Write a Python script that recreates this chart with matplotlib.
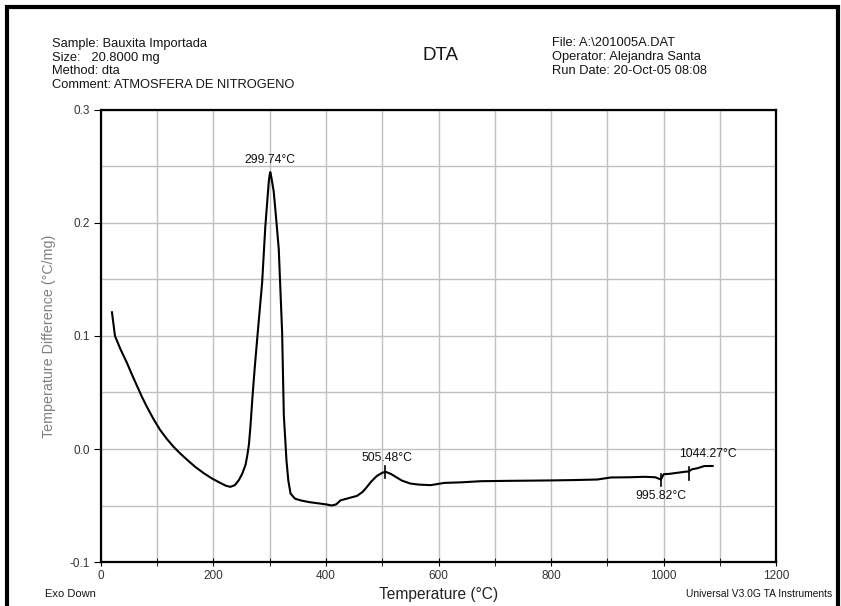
import matplotlib
matplotlib.use('Agg')
import matplotlib.pyplot as plt
from matplotlib.patches import Rectangle
from matplotlib.ticker import MultipleLocator

plt.rcParams['font.family'] = ['Liberation Sans', 'DejaVu Sans']

# DTA curve: temperature (C) and temperature difference (C/mg)
temp = [19.6, 25, 35, 46, 55, 64, 73, 82, 94, 105, 117, 129, 141, 153, 168, 183,
        197, 212, 222, 230, 238, 245, 251, 257, 260, 263, 266, 269, 273, 277.6,
        282, 286.5, 292, 296, 298.3, 300, 301, 303, 307, 311, 316, 319, 322, 325,
        329.7, 333, 337, 345, 355, 370, 385, 400, 410, 418, 426, 440, 455, 465,
        472, 480, 490, 500, 506, 515, 525, 535, 550, 565, 586, 610, 640, 675, 720,
        764, 800, 840, 882, 906, 940, 965, 985, 995, 1000, 1010, 1025, 1040, 1044,
        1050, 1060, 1072, 1087]
dta = [0.121, 0.100, 0.088, 0.0765, 0.066, 0.056, 0.046, 0.037, 0.026, 0.017,
       0.009, 0.002, -0.004, -0.0095, -0.016, -0.0215, -0.026, -0.030, -0.0325,
       -0.0335, -0.032, -0.0276, -0.022, -0.014, -0.006, 0.004, 0.022, 0.044,
       0.070, 0.097, 0.122, 0.1475, 0.196, 0.222, 0.2366, 0.243, 0.245, 0.240,
       0.228, 0.206, 0.177, 0.140, 0.103, 0.030, -0.010, -0.028, -0.0395, -0.044,
       -0.0455, -0.047, -0.048, -0.049, -0.050, -0.049, -0.0454, -0.0435, -0.0415,
       -0.038, -0.034, -0.029, -0.024, -0.021, -0.0202, -0.022, -0.025, -0.028,
       -0.0306, -0.0315, -0.032, -0.030, -0.0295, -0.0285, -0.0282, -0.028,
       -0.0278, -0.0275, -0.027, -0.0252, -0.025, -0.0246, -0.025, -0.027,
       -0.0223, -0.022, -0.021, -0.020, -0.020, -0.018, -0.017, -0.0151, -0.015]

# peak labels: temperature, curve value, label position
peak_temps = [299.74, 505.48, 995.82, 1044.27]
peak_vals = [0.245, -0.0205, -0.0275, -0.0215]
peak_text = ['299.74°C', '505.48°C', '995.82°C', '1044.27°C']
label_x = [301, 509, 995, 1078]
label_y = [0.256, -0.0083, -0.042, -0.004]

fig = plt.figure(figsize=(8.41, 6.06), dpi=100)
ax = fig.add_axes([0.120, 0.0726, 0.803, 0.7459])

ax.plot(temp, dta, color='black', lw=1.5)
for t, v in zip(peak_temps[1:], peak_vals[1:]):
    ax.plot([t, t], [v - 0.0055, v + 0.0055], color='black', lw=1.2)
for tx, ty, s in zip(label_x, label_y, peak_text):
    ax.text(tx, ty, s, ha='center', va='center', fontsize=8.7, color='#111111')

ax.set_xlim(0, 1200)
ax.set_ylim(-0.1, 0.3)
ax.xaxis.set_major_locator(MultipleLocator(200))
ax.xaxis.set_minor_locator(MultipleLocator(100))
ax.yaxis.set_major_locator(MultipleLocator(0.1))
ax.yaxis.set_minor_locator(MultipleLocator(0.05))
ax.yaxis.set_major_formatter(plt.FuncFormatter(lambda v, p: f'{v:.1f}'))
ax.grid(True, which='both', color='#c0c0c0', lw=1)
ax.set_axisbelow(True)
ax.tick_params(which='both', labelsize=8.5, labelcolor='#333333', color='black')
ax.tick_params(axis='x', which='both', direction='inout', length=6, pad=3)
ax.tick_params(axis='y', which='major', direction='out', length=5, pad=3)
ax.tick_params(axis='y', which='minor', length=0)
for sp in ax.spines.values():
    sp.set_linewidth(1.6)

ax.set_xlabel('Temperature (°C)', fontsize=11.2, color='#222222', labelpad=3.5)
ax.set_ylabel('Temperature Difference (°C/mg)', fontsize=10.3, color='#808080', labelpad=10)

# header block
left_lines = ['Sample: Bauxita Importada', 'Size:   20.8000 mg', 'Method: dta',
              'Comment: ATMOSFERA DE NITROGENO']
left_y = [44, 57.5, 71.5, 85.5]
right_lines = ['File: A:\\201005A.DAT', 'Operator: Alejandra Santa', 'Run Date: 20-Oct-05 08:08']
right_y = [43.5, 57, 70.5]
for s, y in zip(left_lines, left_y):
    fig.text(52 / 841, 1 - y / 606, s, fontsize=9.3, va='center', color='#151515')
for s, y in zip(right_lines, right_y):
    fig.text(552 / 841, 1 - y / 606, s, fontsize=9.3, va='center', color='#151515')
fig.text(440 / 841, 1 - 56 / 606, 'DTA', fontsize=13.5, ha='center', va='center', color='#151515')

fig.text(45 / 841, 1 - 594 / 606, 'Exo Down', fontsize=8, va='center', color='#151515')
fig.text(832 / 841, 1 - 594 / 606, 'Universal V3.0G TA Instruments', fontsize=7.4, ha='right',
         va='center', color='#151515')

# page frame
fig.add_artist(Rectangle((7 / 841, -0.02), 831 / 841, 1 - 7 / 606 + 0.02, transform=fig.transFigure,
                         fill=False, lw=3, edgecolor='black'))

fig.savefig('out.png', dpi=100)
